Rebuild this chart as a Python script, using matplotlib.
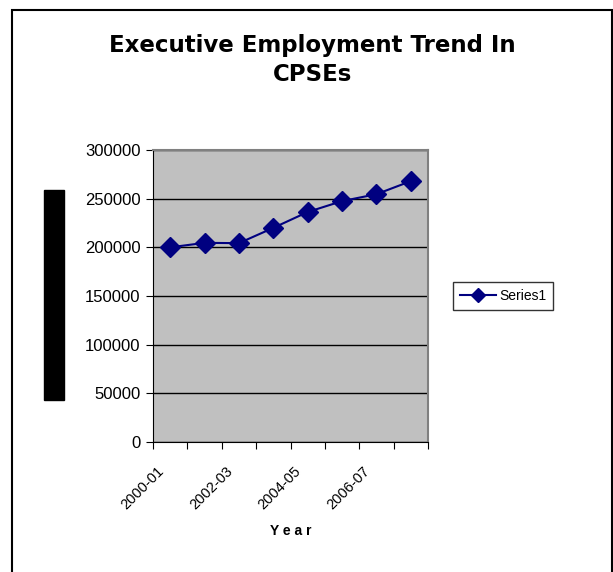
import matplotlib.pyplot as plt
from matplotlib.patches import Rectangle

plt.rcParams['font.family'] = ['Liberation Sans', 'DejaVu Sans']

years = ['2000-01', '2001-02', '2002-03', '2003-04',
         '2004-05', '2005-06', '2006-07', '2007-08']
executives = [200000, 204600, 204300, 220000, 236300, 247500, 254600, 268000]
y_ticks = [0, 50000, 100000, 150000, 200000, 250000, 300000]

fig = plt.figure(figsize=(6.13, 5.72), dpi=100)
ax = fig.add_axes([153/613, 1 - 442/572, 275/613, 292/572])
ax.set_facecolor('#C0C0C0')

x = list(range(len(years)))
ax.plot(x, executives, color='#000080', lw=1.5, marker='D', ms=10,
        mec='#000080', mfc='#000080', label='Series1', zorder=3)

ax.set_xlim(-0.5, len(years) - 0.5)
ax.set_ylim(0, 300000)
ax.set_yticks(y_ticks)
ax.set_yticklabels([str(v) for v in y_ticks], fontsize=12)
ax.yaxis.grid(True, color='black', lw=1)
ax.set_axisbelow(True)

# category ticks on the boundaries, labels on every other year
ax.set_xticks([i - 0.5 for i in range(len(years) + 1)])
ax.set_xticklabels([])
for i in range(0, len(years), 2):
    ax.text(i - 0.4, -0.075, years[i], transform=ax.get_xaxis_transform(),
            rotation=45, ha='right', va='top', rotation_mode='anchor',
            fontsize=10.5)
ax.tick_params(direction='out', length=5, color='black', pad=4)

for side in ['top', 'right']:
    ax.spines[side].set_color('#808080')
    ax.spines[side].set_linewidth(1.5)
for side in ['left', 'bottom']:
    ax.spines[side].set_color('black')

ax.set_xlabel('Y e a r', fontsize=10, fontweight='bold', labelpad=50)

fig.text(0.51, 1 - 60/572, 'Executive Employment Trend In\nCPSEs', ha='center',
         va='center', fontsize=16.5, fontweight='bold', linespacing=1.35,
         family='DejaVu Sans')

# y axis title shown as a solid block
fig.patches.append(Rectangle((44/613, 1 - 400/572), 20/613, 210/572,
                             transform=fig.transFigure, color='black',
                             zorder=5))
fig.text(54/613, 1 - 295/572, 'No. of Executives', rotation=90, ha='center',
         va='center', fontsize=10, fontweight='bold', color='black', zorder=6)

leg = fig.legend(loc='center', bbox_to_anchor=(503/613, 1 - 296/572),
                 fontsize=10, frameon=True, fancybox=False, edgecolor='black',
                 handlelength=2.6, handletextpad=0.2, borderpad=0.5,
                 borderaxespad=0, markerscale=0.7)
leg.get_frame().set_linewidth(1)

fig.patches.append(Rectangle((12/613, -0.01), 600/613, 1 - 10/572 + 0.01,
                             transform=fig.transFigure, fill=False,
                             edgecolor='black', lw=1.5))

fig.savefig('out.png', dpi=100)
